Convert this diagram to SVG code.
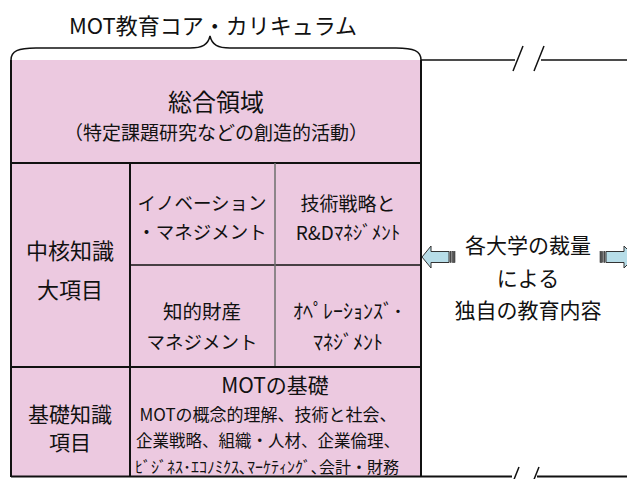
<svg xmlns="http://www.w3.org/2000/svg" width="627" height="479" viewBox="0 0 627 479">
<style>
text{font-family:"Noto Sans CJK JP","Noto Sans",sans-serif;fill:#111;text-anchor:middle;dominant-baseline:central}
.cell{fill:#ECC9E0;stroke:none}
.ln{stroke:#111;stroke-width:2;fill:none}
.thin{stroke:#111;stroke-width:1.5;fill:none}
.grey{stroke:#6e6e6e;stroke-width:1.5;fill:none}
.arrow{fill:#B7DDE8;stroke:#333;stroke-width:1}
.bar{fill:#555;stroke:#333;stroke-width:0.6}
</style>
<rect width="627" height="479" fill="#fff"/>

<g id="title">
<text x="213" y="24" font-size="22">MOT教育コア・カリキュラム</text>
<path class="thin" d="M11 60 C11 51 18 48 36 48 L190 48 C202 48 208 45 210 36 C212 45 218 48 230 48 L396 48 C414 48 421 51 421 60"/>
</g>

<g id="frame">
<rect class="cell" x="11" y="60" width="410" height="416"/>
<line class="ln" x1="11" y1="60" x2="11" y2="477"/>
<line class="ln" x1="421" y1="60" x2="421" y2="477"/>
<line class="ln" x1="11" y1="163" x2="421" y2="163"/>
<line class="ln" x1="130" y1="163" x2="130" y2="477"/>
<line class="thin" x1="130" y1="265" x2="421" y2="265"/>
<line class="grey" x1="275" y1="163" x2="275" y2="367"/>
<line class="ln" x1="11" y1="367" x2="421" y2="367"/>
</g>

<g id="sogo">
<text x="216" y="100" font-size="24">総合領域</text>
<text x="216" y="131" font-size="19">（特定課題研究などの創造的活動）</text>
</g>

<g id="chukaku">
<text x="70" y="249" font-size="22">中核知識</text>
<text x="70" y="288" font-size="22">大項目</text>
</g>

<g id="innovation">
<text x="202" y="202" font-size="18.5">イノベーション</text>
<text x="202" y="231" font-size="18.5">・マネジメント</text>
</g>

<g id="gijutsu">
<text x="348" y="202" font-size="19">技術戦略と</text>
<text x="348" y="231" font-size="19">R&amp;Dﾏﾈｼﾞﾒﾝﾄ</text>
</g>

<g id="chiteki">
<text x="202" y="310" font-size="19.5">知的財産</text>
<text x="202" y="341" font-size="18.5">マネジメント</text>
</g>

<g id="operations">
<text x="348" y="310" font-size="20">ｵﾍﾟﾚｰｼｮﾝｽﾞ･</text>
<text x="348" y="341" font-size="20">ﾏﾈｼﾞﾒﾝﾄ</text>
</g>

<g id="kiso-label">
<text x="70" y="413" font-size="21">基礎知識</text>
<text x="70" y="441" font-size="21">項目</text>
</g>

<g id="kiso">
<text x="275" y="384" font-size="21">MOTの基礎</text>
<text x="268" y="413" font-size="17">MOTの概念的理解、技術と社会、</text>
<text x="268" y="440" font-size="16.5">企業戦略、組織・人材、企業倫理、</text>
<text x="267" y="466" font-size="16">ﾋﾞｼﾞﾈｽ･ｴｺﾉﾐｸｽ､ﾏｰｹﾃｨﾝｸﾞ､会計・財務</text>
</g>

<g id="sairyo">
<text x="528" y="244" font-size="21">各大学の裁量</text>
<text x="528" y="277" font-size="21">による</text>
<text x="528" y="309" font-size="21">独自の教育内容</text>
</g>

<g id="connectors">
<path class="thin" d="M421 60 H515 M541 60 H627"/>
<path class="thin" d="M513 71 L523 46 M534 71 L544 46"/>
<path class="ln" d="M11 476.5 H512 M537 476.5 H627"/>
<path class="thin" d="M519 467 L509 492 M539 467 L529 492"/>
<polygon class="arrow" points="422,257 431,246 431,251.5 449,251.5 449,262.5 431,262.5 431,268"/>
<rect class="bar" x="450" y="251.5" width="1.2" height="11"/>
<rect class="bar" x="452.5" y="251.5" width="2.5" height="11"/>
<polygon class="arrow" points="606,251.5 624,251.5 624,246 635,257 624,268 624,262.5 606,262.5"/>
<rect class="bar" x="600" y="251.5" width="2.5" height="11"/>
<rect class="bar" x="603.8" y="251.5" width="1.2" height="11"/>
</g>
</svg>
